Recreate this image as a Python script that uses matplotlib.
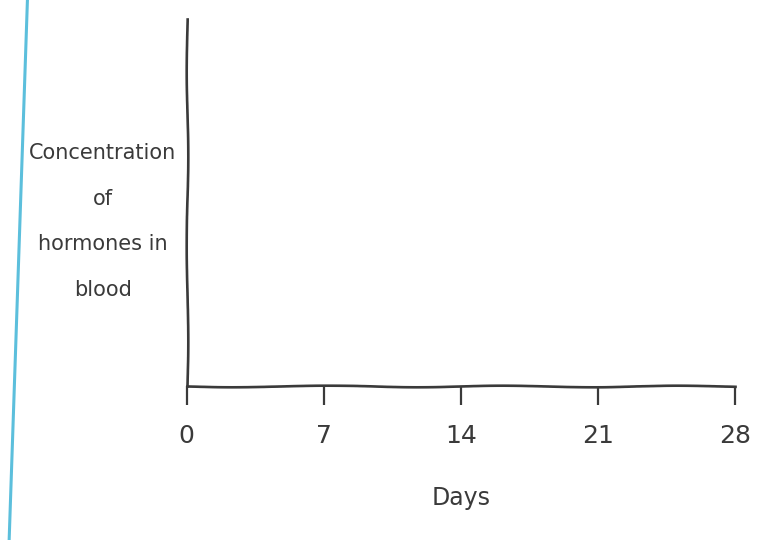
import matplotlib.pyplot as plt
from matplotlib.lines import Line2D

# axis content of the sketch
day_ticks = [0, 7, 14, 21, 28]
day_labels = ['0', '7', '14', '21', '28']
x_label = 'Days'
y_label = 'Concentration\nof\nhormones in\nblood'

ink = '#3a3a3a'

fig = plt.figure(figsize=(7.62, 5.40), dpi=100)
ax = fig.add_axes([0.245, 0.285, 0.72, 0.68])

ax.set_xlim(0, 28)
ax.set_ylim(0, 1)
ax.set_xticks(day_ticks)
ax.set_xticklabels(day_labels)
ax.set_yticks([])

for side in ['top', 'right']:
    ax.spines[side].set_visible(False)
for side in ['left', 'bottom']:
    ax.spines[side].set_color(ink)
    ax.spines[side].set_linewidth(1.9)
    ax.spines[side].set_sketch_params(scale=0.8, length=200, randomness=2)

ax.tick_params(axis='x', direction='out', length=14, width=1.6, color=ink,
               labelsize=18, labelcolor=ink, pad=13)
ax.set_xlabel(x_label, fontsize=17, color=ink, labelpad=28)

# multi-line y label to the left of the axis
fig.text(0.135, 0.59, y_label, ha='center', va='center', fontsize=15,
         color=ink, linespacing=2.6)

# blue margin line of the paper
fig.add_artist(Line2D([0.036, 0.012], [1.0, 0.0], transform=fig.transFigure,
                      color='#5cbfdc', linewidth=2.2))

fig.savefig('out.png', dpi=100, facecolor='white')
